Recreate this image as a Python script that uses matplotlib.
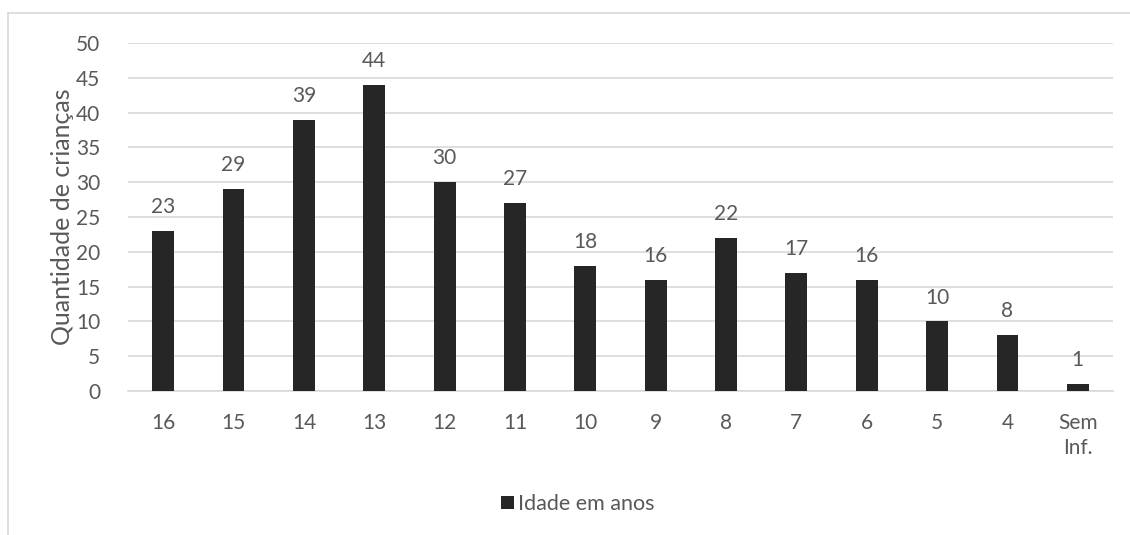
import matplotlib
matplotlib.use("Agg")
import matplotlib.pyplot as plt
from matplotlib.patches import Patch
from matplotlib.lines import Line2D

categories = ["16", "15", "14", "13", "12", "11", "10", "9", "8", "7", "6", "5", "4", "Sem\nInf."]
counts = [23, 29, 39, 44, 30, 27, 18, 16, 22, 17, 16, 10, 8, 1]
yticks = [0, 5, 10, 15, 20, 25, 30, 35, 40, 45, 50]
series_name = "Idade em anos"
ylabel = "Quantidade de crianças"

bar_color = "#262626"
text_color = "#595959"
grid_color = "#d9d9d9"
plt.rcParams["font.family"] = ["Lato", "DejaVu Sans"]

W, H = 1130, 535
fig = plt.figure(figsize=(W / 100, H / 100), dpi=100)
ax = fig.add_axes([128 / W, 1 - 391 / H, (1113 - 128) / W, (391 - 43) / H])

x = list(range(len(categories)))
ax.bar(x, counts, width=0.31, color=bar_color, zorder=3)
for xi, v in zip(x, counts):
    ax.annotate(str(v), (xi, v), xytext=(0, 10), textcoords="offset points",
                ha="center", va="bottom", fontsize=15, color=text_color)

ax.set_xlim(-0.5, len(categories) - 0.5)
ax.set_ylim(0, 50)
ax.set_yticks(yticks)
ax.set_xticks(x)
ax.set_xticklabels(categories, va="top", linespacing=1.3)
ax.tick_params(axis="both", length=0, labelsize=15, colors=text_color)
ax.tick_params(axis="x", pad=16)
ax.tick_params(axis="y", pad=20)
ax.grid(axis="y", color=grid_color, linewidth=1.2, zorder=0)
for s in ["top", "right", "left"]:
    ax.spines[s].set_visible(False)
ax.spines["bottom"].set_color(grid_color)
ax.spines["bottom"].set_linewidth(1.2)

fig.text(62 / W, 1 - 217 / H, ylabel, rotation=90, ha="center", va="center",
         fontsize=18, color=text_color)

# legend
fig.legend(handles=[Patch(facecolor=bar_color, label=series_name)],
           loc="center", bbox_to_anchor=(578 / W, 1 - 504 / H), frameon=False,
           fontsize=15.5, labelcolor=text_color, handlelength=0.6, handleheight=0.6,
           handletextpad=0.2)

# chart frame (top and left edges)
fig.add_artist(Line2D([8 / W, 8 / W], [0, 1 - 13 / H], transform=fig.transFigure,
                      color=grid_color, linewidth=1.2))
fig.add_artist(Line2D([8 / W, 1], [1 - 13 / H, 1 - 13 / H], transform=fig.transFigure,
                      color=grid_color, linewidth=1.2))

fig.savefig("out.png", dpi=100)
